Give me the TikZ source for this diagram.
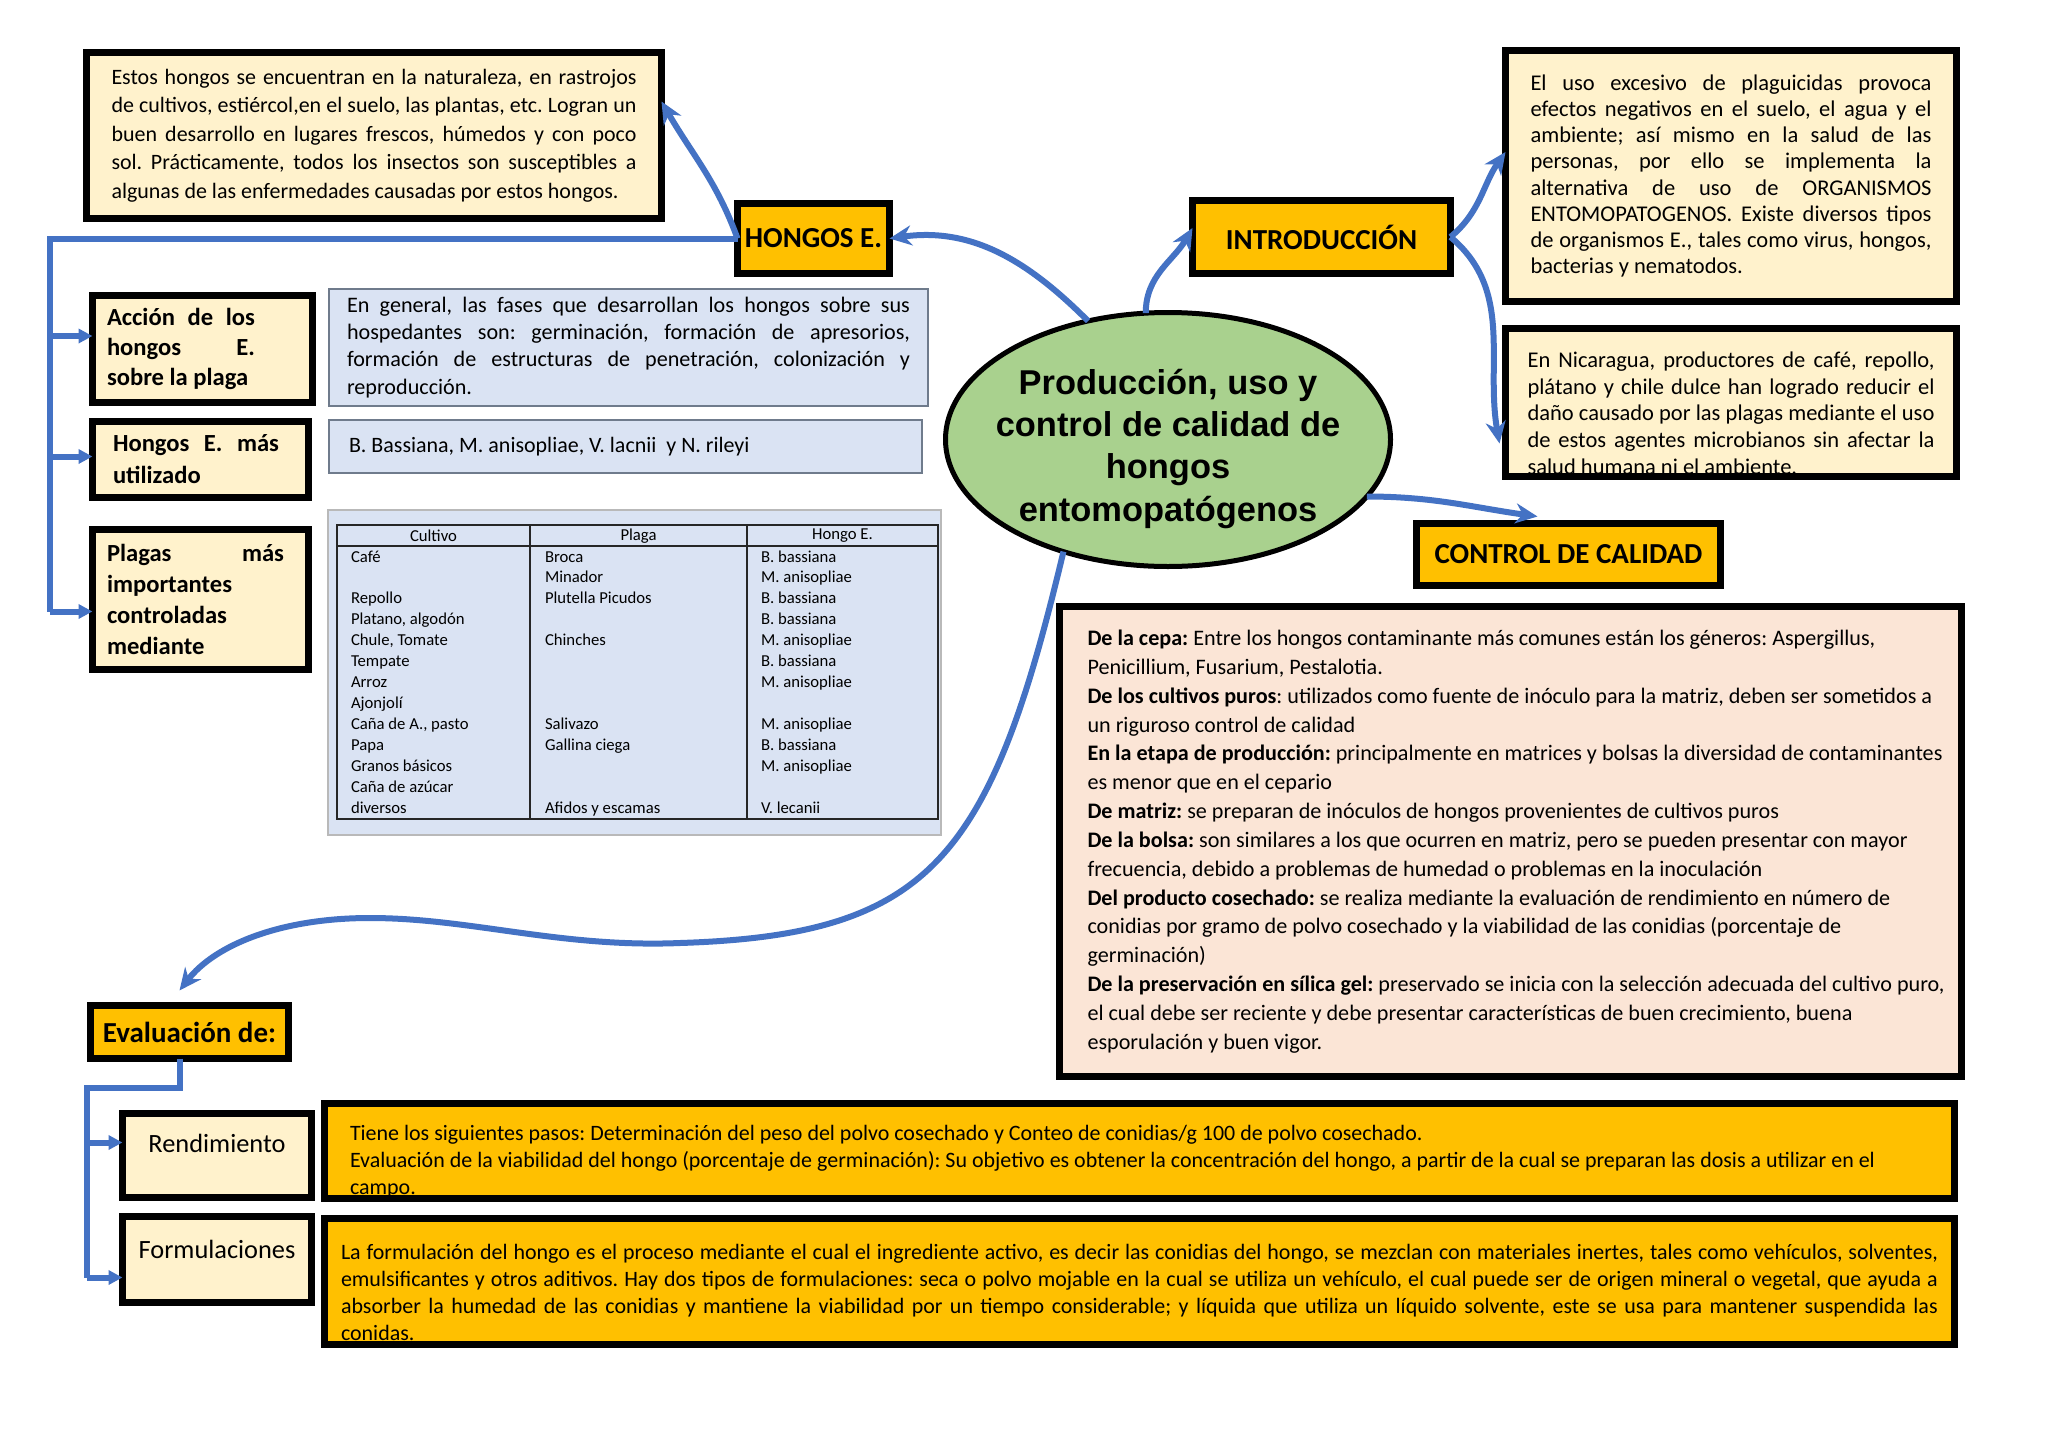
\documentclass[tikz,border=0pt]{standalone}
\usepackage{fontspec}
\setmainfont{Carlito}
\newfontfamily\corefont{Liberation Sans}
\usepackage{xcolor}
\usetikzlibrary{arrows.meta, positioning, shapes.geometric}
\definecolor{creamfill}{HTML}{FFF2CC}
\definecolor{headfill}{HTML}{FFC000}
\definecolor{corefill}{HTML}{A9D18E}
\definecolor{linkblue}{HTML}{4472C4}
\definecolor{paleblue}{HTML}{DAE3F3}
\definecolor{paleedge}{HTML}{6F7B8C}
\definecolor{peachfill}{HTML}{FBE5D6}
\newdimen\upx \upx=0.2mm
% one justified line of a paragraph
\newcommand{\jline}[1]{\makebox[\linewidth][s]{\spaceskip=0pt\relax#1}\\}
\newcommand{\sline}[2]{\makebox[#1][s]{\spaceskip=0pt\relax#2}}

\begin{document}
\frenchspacing
\begin{tikzpicture}[
  x=0.2mm, y=-0.2mm,
  every node/.style={inner sep=0pt, outer sep=0pt, align=center},
  calib/.style={execute at begin node={\spaceskip=0pt\relax\xspaceskip=0pt\relax}},
  note/.style={rectangle, draw=black, line width=1.4mm, fill=creamfill, align=left, calib},
  leaf/.style={rectangle, draw=black, line width=1.4mm, fill=creamfill, align=left, calib,
               font=\fontsize{14}{17}\selectfont\bfseries},
  head/.style={rectangle, draw=black, line width=1.4mm, fill=headfill,
               font=\fontsize{16.5}{20}\selectfont\bfseries},
  gold/.style={rectangle, draw=black, line width=1.4mm, fill=headfill, align=left, calib,
               font=\fontsize{12.5}{15.4}\selectfont},
  pale/.style={rectangle, draw=paleedge, line width=0.4mm, fill=paleblue, align=left, calib,
               font=\fontsize{12.6}{15.4}\selectfont},
  core/.style={ellipse, draw=black, line width=1mm, fill=corefill,
               font=\corefont\bfseries\fontsize{19.6}{24}\selectfont},
  cell/.style={font=\fontsize{9.5}{11.9}\selectfont},
  curvelink/.style={draw=linkblue, line width=1.2mm, -{Stealth[length=4.4mm, width=4mm]}},
  barline/.style={draw=linkblue, line width=1.2mm},
  barlink/.style={draw=linkblue, line width=1.2mm, -{Triangle[length=2.8mm, width=2.8mm]}},
  tblline/.style={draw=black!85, line width=0.5mm},
]
\useasboundingbox (0,0) rectangle (2048,1448);
\fill[white] (0,0) rectangle (2048,1448);

% centre
\node[core, minimum width=445\upx, minimum height=254\upx] (main) at (1168,439.5)
  {\makebox[0pt]{\rule{0pt}{44\upx}Producción, uso y}\\\makebox[0pt]{control de calidad de}\\
   \makebox[0pt]{hongos}\\\makebox[0pt]{entomopatógenos}};

% headings
\node[head, minimum width=152\upx, minimum height=70\upx] (hongos) at (813.5,238.5) {HONGOS E.};
\node[head, minimum width=258\upx, minimum height=73\upx] (intro) at (1321.5,237) {INTRODUCCIÓN};
\node[head, minimum width=304\upx, minimum height=62\upx] (ctrl) at (1568.5,554.5) {CONTROL DE CALIDAD};
\node[head, minimum width=198\upx, minimum height=53\upx] (eval) at (189.5,1032) {Evaluación de:};

% hongos E.
\node[note, minimum width=575\upx, minimum height=166\upx, text width=525\upx,
      font=\fontsize{12.5}{16.2}\selectfont] (estos) at (374,135.5)
  {\jline{Estos hongos se encuentran en la naturaleza, en rastrojos}
   \jline{de cultivos, estiércol,en el suelo, las plantas, etc. Logran un}
   \jline{buen desarrollo en lugares frescos, húmedos y con poco}
   \jline{sol. Prácticamente, todos los insectos son susceptibles a}
   algunas de las enfermedades causadas por estos hongos.};

\node[leaf, minimum width=220\upx, minimum height=107\upx, text width=191\upx] (acc) at (202.5,349)
  {\sline{148\upx}{Acción de los}\\\sline{148\upx}{hongos E.}\\sobre la plaga};
\node[leaf, minimum width=216\upx, minimum height=76\upx, text width=175\upx,
      font=\fontsize{14}{18.2}\selectfont\bfseries] (hmu) at (200.5,459.5)
  {\sline{166\upx}{Hongos E. más}\\utilizado};
\node[leaf, minimum width=216\upx, minimum height=140\upx, text width=187\upx,
      font=\fontsize{14}{17.8}\selectfont\bfseries] (plg) at (200.5,599.5)
  {\sline{177\upx}{Plagas más}\\importantes\\controladas\\mediante};

\node[pale, minimum width=599\upx, minimum height=117\upx, text width=563\upx] (fases) at (628.5,347.5)
  {\jline{En general, las fases que desarrollan los hongos sobre sus}
   \jline{hospedantes son: germinación, formación de apresorios,}
   \jline{formación de estructuras de penetración, colonización y}
   reproducción.};
\node[pale, minimum width=593\upx, minimum height=53\upx, text width=553\upx,
      font=\fontsize{12.5}{14}\selectfont] (bass) at (625.5,446.5)
  {B. Bassiana, M. anisopliae, V. lacnii\ \ y N. rileyi};

% table
\node[pale, draw=gray!55, minimum width=613\upx, minimum height=325\upx] (tbl) at (634.5,672.5) {};
\draw[tblline] (337,525) rectangle (938,819);
\draw[tblline] (337,546) -- (938,546);
\draw[tblline] (530,525) -- (530,819);
\draw[tblline] (747,525) -- (747,819);
\node[cell] (hCultivo) at (433.5,536) {Cultivo};
\node[cell] (hPlaga) at (638.5,536) {Plaga};
\node[cell] (hHongo) at (842.5,536) {Hongo E.};
\node[cell, anchor=base west, align=left] (colCultivo) at (351,813)
  {Café\\\mbox{}\\Repollo\\Platano, algodón\\Chule, Tomate\\Tempate\\Arroz\\Ajonjolí\\Caña de A., pasto\\Papa\\Granos básicos\\Caña de azúcar\\diversos};
\node[cell, anchor=base west, align=left] (colPlaga) at (545,813)
  {Broca\\Minador\\Plutella Picudos\\\mbox{}\\Chinches\\\mbox{}\\\mbox{}\\\mbox{}\\Salivazo\\Gallina ciega\\\mbox{}\\\mbox{}\\Afidos y escamas};
\node[cell, anchor=base west, align=left] (colHongo) at (761,813)
  {B. bassiana\\M. anisopliae\\B. bassiana\\B. bassiana\\M. anisopliae\\B. bassiana\\M. anisopliae\\\mbox{}\\M. anisopliae\\B. bassiana\\M. anisopliae\\\mbox{}\\V. lecanii};

% introduccion
\node[note, minimum width=451\upx, minimum height=251\upx, text width=401\upx,
      font=\fontsize{12.8}{14.9}\selectfont] (introTxt) at (1731,176)
  {\jline{El uso excesivo de plaguicidas provoca}
   \jline{efectos negativos en el suelo, el agua y el}
   \jline{ambiente; así mismo en la salud de las}
   \jline{personas, por ello se implementa la}
   \jline{alternativa de uso de ORGANISMOS}
   \jline{ENTOMOPATOGENOS. Existe diversos tipos}
   \jline{de organismos E., tales como virus, hongos,}
   bacterias y nematodos.};
\node[note, minimum width=451\upx, minimum height=148\upx, text width=407\upx,
      font=\fontsize{12.8}{15.25}\selectfont] (nicTxt) at (1731,402.5)
  {\jline{\rule{0pt}{37\upx}En Nicaragua, productores de café, repollo,}
   \jline{plátano y chile dulce han logrado reducir el}
   \jline{daño causado por las plagas mediante el uso}
   \jline{de estos agentes microbianos sin afectar la}
   salud humana ni el ambiente.};

% control de calidad
\node[rectangle, draw=black, line width=1.4mm, fill=peachfill, align=left, calib,
      minimum width=902\upx, minimum height=470\upx, text width=900\upx,
      font=\fontsize{12.6}{16.4}\selectfont] (ctrlTxt) at (1510.5,841.5)
  {\leftskip=27\upx\relax
   \textbf{De la cepa:} Entre los hongos contaminante más comunes están los géneros: Aspergillus,\\
   Penicillium, Fusarium, Pestalotia.\\
   \textbf{De los cultivos puros}: utilizados como fuente de inóculo para la matriz, deben ser sometidos a\\
   un riguroso control de calidad\\
   \textbf{En la etapa de producción:} principalmente en matrices y bolsas la diversidad de contaminantes\\
   es menor que en el cepario\\
   \textbf{De matriz:} se preparan de inóculos de hongos provenientes de cultivos puros\\
   \textbf{De la bolsa:} son similares a los que ocurren en matriz, pero se pueden presentar con mayor\\
   frecuencia, debido a problemas de humedad o problemas en la inoculación\\
   \textbf{Del producto cosechado:} se realiza mediante la evaluación de rendimiento en número de\\
   conidias por gramo de polvo cosechado y la viabilidad de las conidias (porcentaje de\\
   germinación)\\
   \textbf{De la preservación en sílica gel:} preservado se inicia con la selección adecuada del cultivo puro,\\
   el cual debe ser reciente y debe presentar características de buen crecimiento, buena\\
   esporulación y buen vigor.\par};

% evaluacion
\node[note, align=center, minimum width=189\upx, minimum height=84\upx,
      font=\fontsize{15}{18}\selectfont, text depth=24\upx] (rend) at (217,1155.5) {Rendimiento};
\node[note, align=center, minimum width=189\upx, minimum height=86\upx,
      font=\fontsize{15}{18}\selectfont, text depth=20\upx] (form) at (217,1259.5) {Formulaciones};
\node[gold, minimum width=1630\upx, minimum height=93\upx, text width=1579\upx] (rendTxt) at (1139.5,1151)
  {\rule{0pt}{37\upx}Tiene los siguientes pasos: Determinación del peso del polvo cosechado y Conteo de conidias/g 100 de polvo cosechado.\\
   Evaluación de la viabilidad del hongo (porcentaje de germinación): Su objetivo es obtener la concentración del hongo, a partir de la cual se preparan las dosis a utilizar en el\\
   campo.};
\node[gold, minimum width=1630\upx, minimum height=126\upx, text width=1597\upx] (formTxt) at (1139.5,1281.5)
  {\jline{\rule{0pt}{37\upx}La formulación del hongo es el proceso mediante el cual el ingrediente activo, es decir las conidias del hongo, se mezclan con materiales inertes, tales como vehículos, solventes,}
   \jline{emulsificantes y otros aditivos. Hay dos tipos de formulaciones: seca o polvo mojable en la cual se utiliza un vehículo, el cual puede ser de origen mineral o vegetal, que ayuda a}
   \jline{absorber la humedad de las conidias y mantiene la viabilidad por un tiempo considerable; y líquida que utiliza un líquido solvente, este se usa para mantener suspendida las}
   conidas.};

% connectors
\draw[curvelink] (main.124) to[out=135, in=8] (hongos.east);
\draw[curvelink] (hongos.west) to[out=110, in=-60] ([yshift=34\upx]estos.east);
\draw[curvelink] (main.100) to[out=90, in=-120] ([yshift=9\upx]intro.west);
\draw[curvelink] (intro.east) to[out=40, in=-125] ([yshift=24\upx]introTxt.west);
\draw[curvelink] (intro.east) to[out=-40, in=100] ([xshift=-6\upx,yshift=-41\upx]nicTxt.west);
\draw[curvelink] (main.-16) to[out=0, in=172] ([xshift=-31\upx,yshift=7\upx]ctrl.north);
\draw[curvelink] (main.227) .. controls (990,860) and (930,935) .. (680,943)
  .. controls (560,948) and (470,918) .. (370,918)
  .. controls (280,918) and (215,945) .. ([xshift=-10\upx,yshift=15\upx]eval.north);

% left bracket under hongos E.
\coordinate (spineA) at (50,0);
\coordinate (accIn) at ([yshift=13\upx]acc.west);
\coordinate (hmuIn) at ([yshift=3\upx]hmu.west);
\coordinate (plgIn) at ([yshift=-12\upx]plg.west);
\draw[barline] (hongos.west) -- (hongos.west -| spineA) -- (spineA |- plgIn);
\foreach \n in {accIn, hmuIn, plgIn}
  \draw[barlink] (spineA |- \n) -- (\n);

% bracket under evaluacion
\coordinate (elbow) at (87,1088);
\coordinate (rendIn) at ([yshift=13\upx]rend.west);
\coordinate (formIn) at ([yshift=-18\upx]form.west);
\draw[barline] ([xshift=-10\upx]eval.south) |- (elbow) -- (elbow |- formIn);
\foreach \n in {rendIn, formIn}
  \draw[barlink] (elbow |- \n) -- (\n);
\end{tikzpicture}
\end{document}
